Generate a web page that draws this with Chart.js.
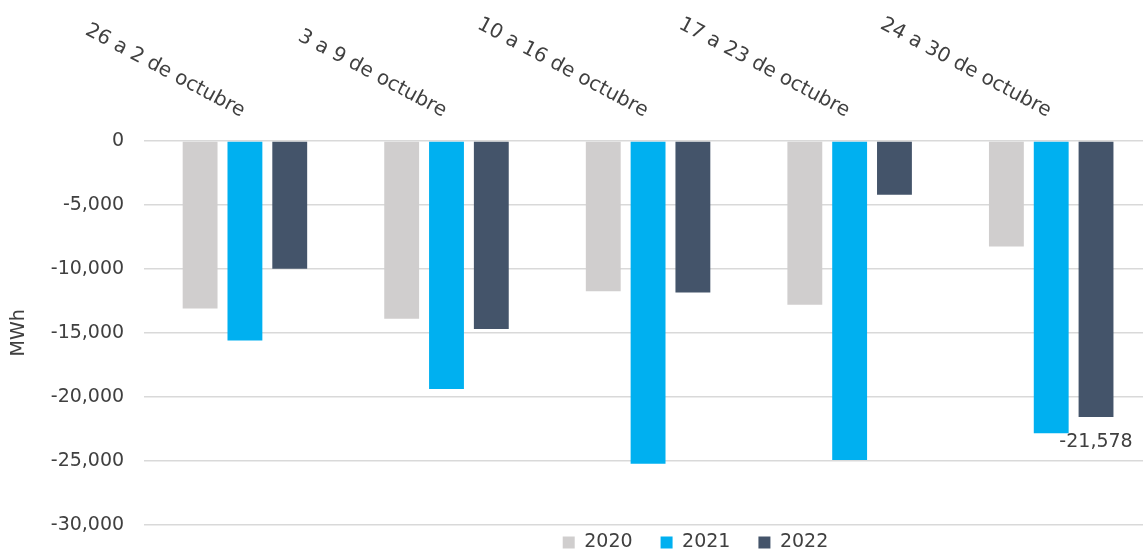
<!DOCTYPE html>
<html>
<head>
<meta charset="utf-8">
<script src="https://cdn.jsdelivr.net/npm/chart.js@4.4.1/dist/chart.umd.min.js"></script>
<style>
  html, body { margin: 0; padding: 0; background: #fff; }
  #wrap { width: 1143px; height: 550px; position: relative; }
</style>
</head>
<body>
<div id="wrap"><canvas id="chart"></canvas></div>
<script>
// datos
const categories = ['26 a 2 de octubre', '3 a 9 de octubre', '10 a 16 de octubre', '17 a 23 de octubre', '24 a 30 de octubre'];
const values2020 = [-13100, -13900, -11750, -12800, -8250];
const values2021 = [-15600, -19400, -25250, -24950, -22850];
const values2022 = [-10000, -14700, -11850, -4200, -21578];
const seriesNames = ['2020', '2021', '2022'];
const yMin = -30000;
const yMax = 0;
const yStep = 5000;

const FONT = "'DejaVu Sans', sans-serif";
const TEXT = '#404040';

// etiquetas de categoria giradas arriba del grafico
const topLabels = {
  id: 'topLabels',
  afterDraw(chart) {
    const ctx = chart.ctx;
    const x = chart.scales.x;
    ctx.save();
    ctx.font = '20px ' + FONT;
    ctx.fillStyle = TEXT;
    ctx.textAlign = 'right';
    ctx.textBaseline = 'alphabetic';
    categories.forEach((c, i) => {
      ctx.save();
      ctx.translate(x.getPixelForValue(i) - 4, 117);
      ctx.rotate(28 * Math.PI / 180);
      ctx.fillText(c, 0, 0);
      ctx.restore();
    });
    ctx.restore();
  }
};

// etiqueta del ultimo valor de 2022
const lastLabel = {
  id: 'lastLabel',
  afterDatasetsDraw(chart) {
    const ctx = chart.ctx;
    const meta = chart.getDatasetMeta(2);
    const i = values2022.length - 1;
    const bar = meta.data[i];
    ctx.save();
    ctx.font = '19px ' + FONT;
    ctx.fillStyle = TEXT;
    ctx.textAlign = 'center';
    ctx.textBaseline = 'middle';
    ctx.fillText(values2022[i].toLocaleString('en-US'), bar.x, bar.y + 25);
    ctx.restore();
  }
};

// leyenda pegada abajo y area de barras un poco mas grande (como en el original)
const layoutFix = {
  id: 'layoutFix',
  beforeLayout(chart) {
    const lg = chart.legend;
    if (lg && !lg._patched) {
      const fit = lg.fit;
      lg.fit = function () { fit.call(this); this.height = 13; };
      lg._patched = true;
    }
  },
  afterLayout(chart) {
    const lg = chart.legend;
    lg.top = chart.height - 45;
    lg.bottom = chart.height;
    lg.left += 123;
    lg.right += 123;
    const x = chart.scales.x;
    x.right += 9;
    x.width += 9;
    x.configure();
    const y = chart.scales.y;
    y.bottom += 6;
    y.height += 6;
    y.configure();
  }
};

new Chart(document.getElementById('chart'), {
  type: 'bar',
  data: {
    labels: categories,
    datasets: [
      { label: seriesNames[0], data: values2020, backgroundColor: '#d0cece' },
      { label: seriesNames[1], data: values2021, backgroundColor: '#00b0f0' },
      { label: seriesNames[2], data: values2022, backgroundColor: '#44546a' }
    ]
  },
  options: {
    responsive: true,
    maintainAspectRatio: false,
    animation: false,
    categoryPercentage: 0.667,
    barPercentage: 0.778,
    layout: { padding: { top: 133, right: 0, left: 2, bottom: 0 } },
    scales: {
      x: {
        position: 'top',
        ticks: { display: false },
        grid: { display: false },
        border: { display: false }
      },
      y: {
        min: yMin,
        max: yMax,
        ticks: {
          stepSize: yStep,
          padding: 20,
          color: TEXT,
          font: { family: FONT, size: 19 }
        },
        grid: { color: '#d9d9d9', lineWidth: 1.5, drawTicks: false },
        border: { display: false },
        title: {
          display: true,
          text: 'MWh',
          color: TEXT,
          font: { family: FONT, size: 19 },
          padding: { top: 6, bottom: 0 }
        }
      }
    },
    plugins: {
      legend: {
        position: 'bottom',
        labels: {
          boxWidth: 12,
          boxHeight: 12,
          padding: 28,
          color: TEXT,
          font: { family: FONT, size: 19 }
        }
      },
      tooltip: { enabled: false }
    }
  },
  plugins: [topLabels, lastLabel, layoutFix]
});
</script>
</body>
</html>
